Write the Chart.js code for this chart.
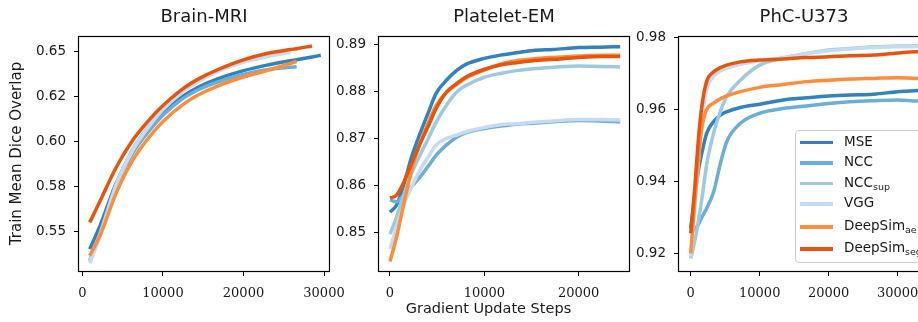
<!DOCTYPE html>
<html lang="en">
<head>
<meta charset="UTF-8">
<title>Train mean dice overlap</title>
<script src="https://cdn.jsdelivr.net/npm/chart.js@4.4.0/dist/chart.umd.min.js"></script>
<style>
  html, body { margin: 0; padding: 0; background: #fff; width: 918px; height: 322px; overflow: hidden; position: relative; }
  canvas.panel { position: absolute; top: 0; }
  #xlabel { position: absolute; left: 0; width: 977px; top: 300px; text-align: center;
            font: 14.5px "DejaVu Sans"; line-height: 17px; color: #1a1a1a; }
  #legend { position: absolute; left: 795px; top: 130px; width: 140px; height: 131px;
            border: 1px solid #ccc; border-radius: 4px; background: rgba(255,255,255,0.8); }
  .row { position: absolute; left: 0; height: 20px; width: 140px; }
  .row span.h { position: absolute; left: 4px; top: 8px; width: 33px; height: 3.5px; }
  .row span.t { position: absolute; left: 48px; top: 0; line-height: 20px; font: 13.5px "DejaVu Sans"; color: #1a1a1a; white-space: nowrap; }
  .row sub { font-size: 9.5px; vertical-align: -3px; line-height: 0; }
</style>
</head>
<body>
<canvas id="c1" class="panel" width="345" height="322" style="left:0px"></canvas>
<canvas id="c2" class="panel" width="345" height="322" style="left:300px"></canvas>
<canvas id="c3" class="panel" width="345" height="322" style="left:600px"></canvas>
<div id="xlabel">Gradient Update Steps</div>
<div id="legend"></div>
<script>
// methods, in plotting order
const methodBase = ['MSE', 'NCC', 'NCC', 'VGG', 'DeepSim', 'DeepSim'];
const methodSub = ['', '', 'sup', '', 'ae', 'seg'];
const colors = ['#3182bd', '#6baed6', '#9ecae1', '#c6dbef', '#fd8d3c', '#e6550d'];

// Brain-MRI
const brainSteps = [900, 2200, 4200, 6300, 8400, 10000, 12500, 14600, 16700, 19900, 22900, 25800, 26600, 28500, 29600];
const brainMSE = [0.5404, 0.5535, 0.5770, 0.5950, 0.6075, 0.6155, 0.6250, 0.6305, 0.6345, 0.6390, 0.6422, 0.6446, 0.6452, 0.6467, 0.6476];
const brainNCC = [0.5339, 0.5495, 0.5755, 0.5940, 0.6065, 0.6145, 0.6238, 0.6290, 0.6327, 0.6370, 0.6397, 0.6410, 0.6413, null, null];
const brainNCCsup = [0.5340, 0.5490, 0.5765, 0.5960, 0.6095, 0.6180, 0.6280, 0.6340, 0.6388, 0.6440, 0.6472, 0.6496, null, null, null];
const brainVGG = [0.5325, 0.5480, 0.5758, 0.5955, 0.6090, 0.6176, 0.6277, 0.6337, 0.6385, 0.6437, 0.6469, 0.6492, null, null, null];
const brainAE = [0.5367, 0.5480, 0.5715, 0.5900, 0.6030, 0.6110, 0.6205, 0.6262, 0.6305, 0.6355, 0.6392, 0.6431, 0.6442, null, null];
const brainSeg = [0.5552, 0.5672, 0.5857, 0.6010, 0.6125, 0.6198, 0.6292, 0.6350, 0.6395, 0.6450, 0.6486, 0.6508, 0.6513, 0.6528, null];

// Platelet-EM
const plateletSteps = [0, 700, 1400, 2300, 3200, 4100, 4900, 6000, 7100, 8100, 10000, 11700, 13400, 15200, 17300, 20000, 22300, 24400];
const plateletMSE = [0.8543, 0.8558, 0.8597, 0.8661, 0.8711, 0.8757, 0.8796, 0.8824, 0.8845, 0.8858, 0.8870, 0.8877, 0.8882, 0.8887, 0.8889, 0.8893, 0.8894, 0.8895];
const plateletNCC = [0.8569, 0.8565, 0.8578, 0.8598, 0.8618, 0.8642, 0.8664, 0.8686, 0.8703, 0.8712, 0.8721, 0.8726, 0.8730, 0.8732, 0.8735, 0.8738, 0.8737, 0.8735];
const plateletNCCsup = [0.8496, 0.8533, 0.8576, 0.8626, 0.8665, 0.8701, 0.8735, 0.8771, 0.8799, 0.8813, 0.8830, 0.8838, 0.8844, 0.8848, 0.8851, 0.8854, 0.8853, 0.8852];
const plateletVGG = [0.8464, 0.8512, 0.8555, 0.8597, 0.8633, 0.8662, 0.8686, 0.8700, 0.8707, 0.8714, 0.8723, 0.8729, 0.8731, 0.8734, 0.8737, 0.8740, 0.8740, 0.8739];
const plateletAE = [0.8438, 0.8490, 0.8555, 0.8633, 0.8690, 0.8735, 0.8770, 0.8798, 0.8815, 0.8829, 0.8845, 0.8858, 0.8865, 0.8869, 0.8872, 0.8875, 0.8877, 0.8877];
const plateletSeg = [0.8573, 0.8579, 0.8604, 0.8647, 0.8689, 0.8728, 0.8764, 0.8799, 0.8817, 0.8831, 0.8847, 0.8856, 0.8861, 0.8865, 0.8868, 0.8872, 0.8874, 0.8874];

// PhC-U373
const phcSteps = [0, 600, 1100, 1600, 2300, 3300, 4300, 5200, 7200, 10000, 13400, 16800, 20000, 23100, 26500, 30000, 32900, 34600];
const phcMSE = [0.9270, 0.9360, 0.9430, 0.9478, 0.9534, 0.9566, 0.9585, 0.9594, 0.9606, 0.9615, 0.9627, 0.9633, 0.9638, 0.9641, 0.9643, 0.9650, 0.9653, 0.9655];
const phcNCC = [0.9256, 0.9268, 0.9280, 0.9300, 0.9325, 0.9370, 0.9450, 0.9510, 0.9562, 0.9590, 0.9603, 0.9610, 0.9617, 0.9622, 0.9625, 0.9627, 0.9624, 0.9624];
const phcNCCsup = [0.9186, 0.9235, 0.9290, 0.9350, 0.9446, 0.9534, 0.9595, 0.9636, 0.9682, 0.9724, 0.9743, 0.9756, 0.9766, 0.9770, 0.9775, 0.9777, 0.9778, 0.9778];
const phcVGG = [0.9191, 0.9330, 0.9450, 0.9565, 0.9655, 0.9692, 0.9708, 0.9715, 0.9726, 0.9736, 0.9745, 0.9756, 0.9764, 0.9769, 0.9773, 0.9775, 0.9776, 0.9776];
const phcAE = [0.9200, 0.9348, 0.9460, 0.9548, 0.9600, 0.9618, 0.9630, 0.9638, 0.9650, 0.9662, 0.9670, 0.9678, 0.9682, 0.9685, 0.9687, 0.9689, 0.9687, 0.9688];
const phcSeg = [0.9256, 0.9386, 0.9515, 0.9608, 0.9678, 0.9705, 0.9717, 0.9724, 0.9733, 0.9738, 0.9741, 0.9745, 0.9747, 0.9750, 0.9752, 0.9758, 0.9761, 0.9761];

// ticks
const brainXTicks = [0, 10000, 20000, 30000];
const brainYTicks = [0.55, 0.575, 0.6, 0.625, 0.65];
const brainYLabels = ['0.55', '0.58', '0.60', '0.62', '0.65'];
const plateletXTicks = [0, 10000, 20000];
const plateletYTicks = [0.85, 0.86, 0.87, 0.88, 0.89];
const plateletYLabels = ['0.85', '0.86', '0.87', '0.88', '0.89'];
const phcXTicks = [0, 10000, 20000, 30000];
const phcYTicks = [0.92, 0.94, 0.96, 0.98];
const phcYLabels = ['0.92', '0.94', '0.96', '0.98'];

const textColor = '#1a1a1a';

// full box around the axes, like matplotlib spines
const frame = {
  id: 'frame',
  afterDraw(chart) {
    const a = chart.chartArea;
    const ctx = chart.ctx;
    ctx.save();
    ctx.strokeStyle = '#000';
    ctx.lineWidth = 1.2;
    ctx.strokeRect(a.left - 0.5, a.top + 0.5, a.right - a.left + 1, a.bottom - a.top);
    ctx.restore();
  }
};

function makePanel(id, title, steps, series, xr, yr, xTicks, yTicks, yLabels, yTitle) {
  const datasets = series.map(function (vals, i) {
    const pts = [];
    vals.forEach(function (v, j) {
      if (v !== null) pts.push({ x: steps[j], y: v });
    });
    return {
      label: methodBase[i] + methodSub[i],
      data: pts,
      borderColor: colors[i],
      backgroundColor: colors[i],
      borderWidth: 3.5,
      pointRadius: 0,
      cubicInterpolationMode: 'monotone',
      order: series.length - i
    };
  });

  return new Chart(document.getElementById(id), {
    type: 'line',
    data: { datasets: datasets },
    options: {
      responsive: false,
      animation: false,
      layout: { padding: { left: 0, right: 16, top: 0, bottom: 0 } },
      plugins: {
        legend: { display: false },
        tooltip: { enabled: false },
        title: {
          display: true, text: title, fullSize: false,
          color: textColor,
          font: { family: 'DejaVu Sans', size: 18, weight: 'normal' },
          padding: { top: 7, bottom: 7.4 }
        }
      },
      scales: {
        x: {
          type: 'linear', min: xr[0], max: xr[1],
          afterBuildTicks: function (s) { s.ticks = xTicks.map(function (v) { return { value: v }; }); },
          afterFit: function (s) { s.height = 51; s.paddingLeft = 0; s.paddingRight = 0; },
          grid: { drawOnChartArea: false, drawTicks: true, tickLength: 5, color: '#000' },
          border: { display: false },
          ticks: {
            autoSkip: false, maxRotation: 0, padding: 10, color: textColor,
            font: { family: 'DejaVu Serif', size: 13 },
            callback: function (v) { return String(v); }
          }
        },
        y: {
          type: 'linear', min: yr[0], max: yr[1],
          afterBuildTicks: function (s) { s.ticks = yTicks.map(function (v) { return { value: v }; }); },
          afterFit: function (s) { s.width = 79; s.paddingTop = 0; s.paddingBottom = 0; },
          grid: { drawOnChartArea: false, drawTicks: true, tickLength: 5, color: '#000' },
          border: { display: false },
          ticks: {
            autoSkip: false, padding: 8, color: textColor,
            font: { family: 'DejaVu Sans', size: 13.5 },
            callback: function (v, i) { return yLabels[i]; }
          },
          title: {
            display: !!yTitle, text: yTitle || '', color: textColor,
            font: { family: 'DejaVu Sans', size: 15 },
            padding: { top: 8, bottom: 0 }
          }
        }
      }
    },
    plugins: [frame]
  });
}

makePanel('c1', 'Brain-MRI', brainSteps,
  [brainMSE, brainNCC, brainNCCsup, brainVGG, brainAE, brainSeg],
  [-430, 30620], [0.5283, 0.6583], brainXTicks, brainYTicks, brainYLabels, 'Train Mean Dice Overlap');
makePanel('c2', 'Platelet-EM', plateletSteps,
  [plateletMSE, plateletNCC, plateletNCCsup, plateletVGG, plateletAE, plateletSeg],
  [-1166, 25336], [0.84177, 0.89177], plateletXTicks, plateletYTicks, plateletYLabels, null);
makePanel('c3', 'PhC-U373', phcSteps,
  [phcMSE, phcNCC, phcNCCsup, phcVGG, phcAE, phcSeg],
  [-1700, 34536], [0.91508, 0.9805], phcXTicks, phcYTicks, phcYLabels, null);

// legend (html so subscripts work)
const rowTops = [1.7, 22.3, 42.7, 63.3, 86, 108.3];
const legend = document.getElementById('legend');
methodBase.forEach(function (name, i) {
  const row = document.createElement('div');
  row.className = 'row';
  row.style.top = rowTops[i] + 'px';
  const h = document.createElement('span');
  h.className = 'h';
  h.style.background = colors[i];
  const t = document.createElement('span');
  t.className = 't';
  t.textContent = name;
  if (methodSub[i]) {
    const s = document.createElement('sub');
    s.textContent = methodSub[i];
    t.appendChild(s);
  }
  row.appendChild(h);
  row.appendChild(t);
  legend.appendChild(row);
});
</script>
</body>
</html>
